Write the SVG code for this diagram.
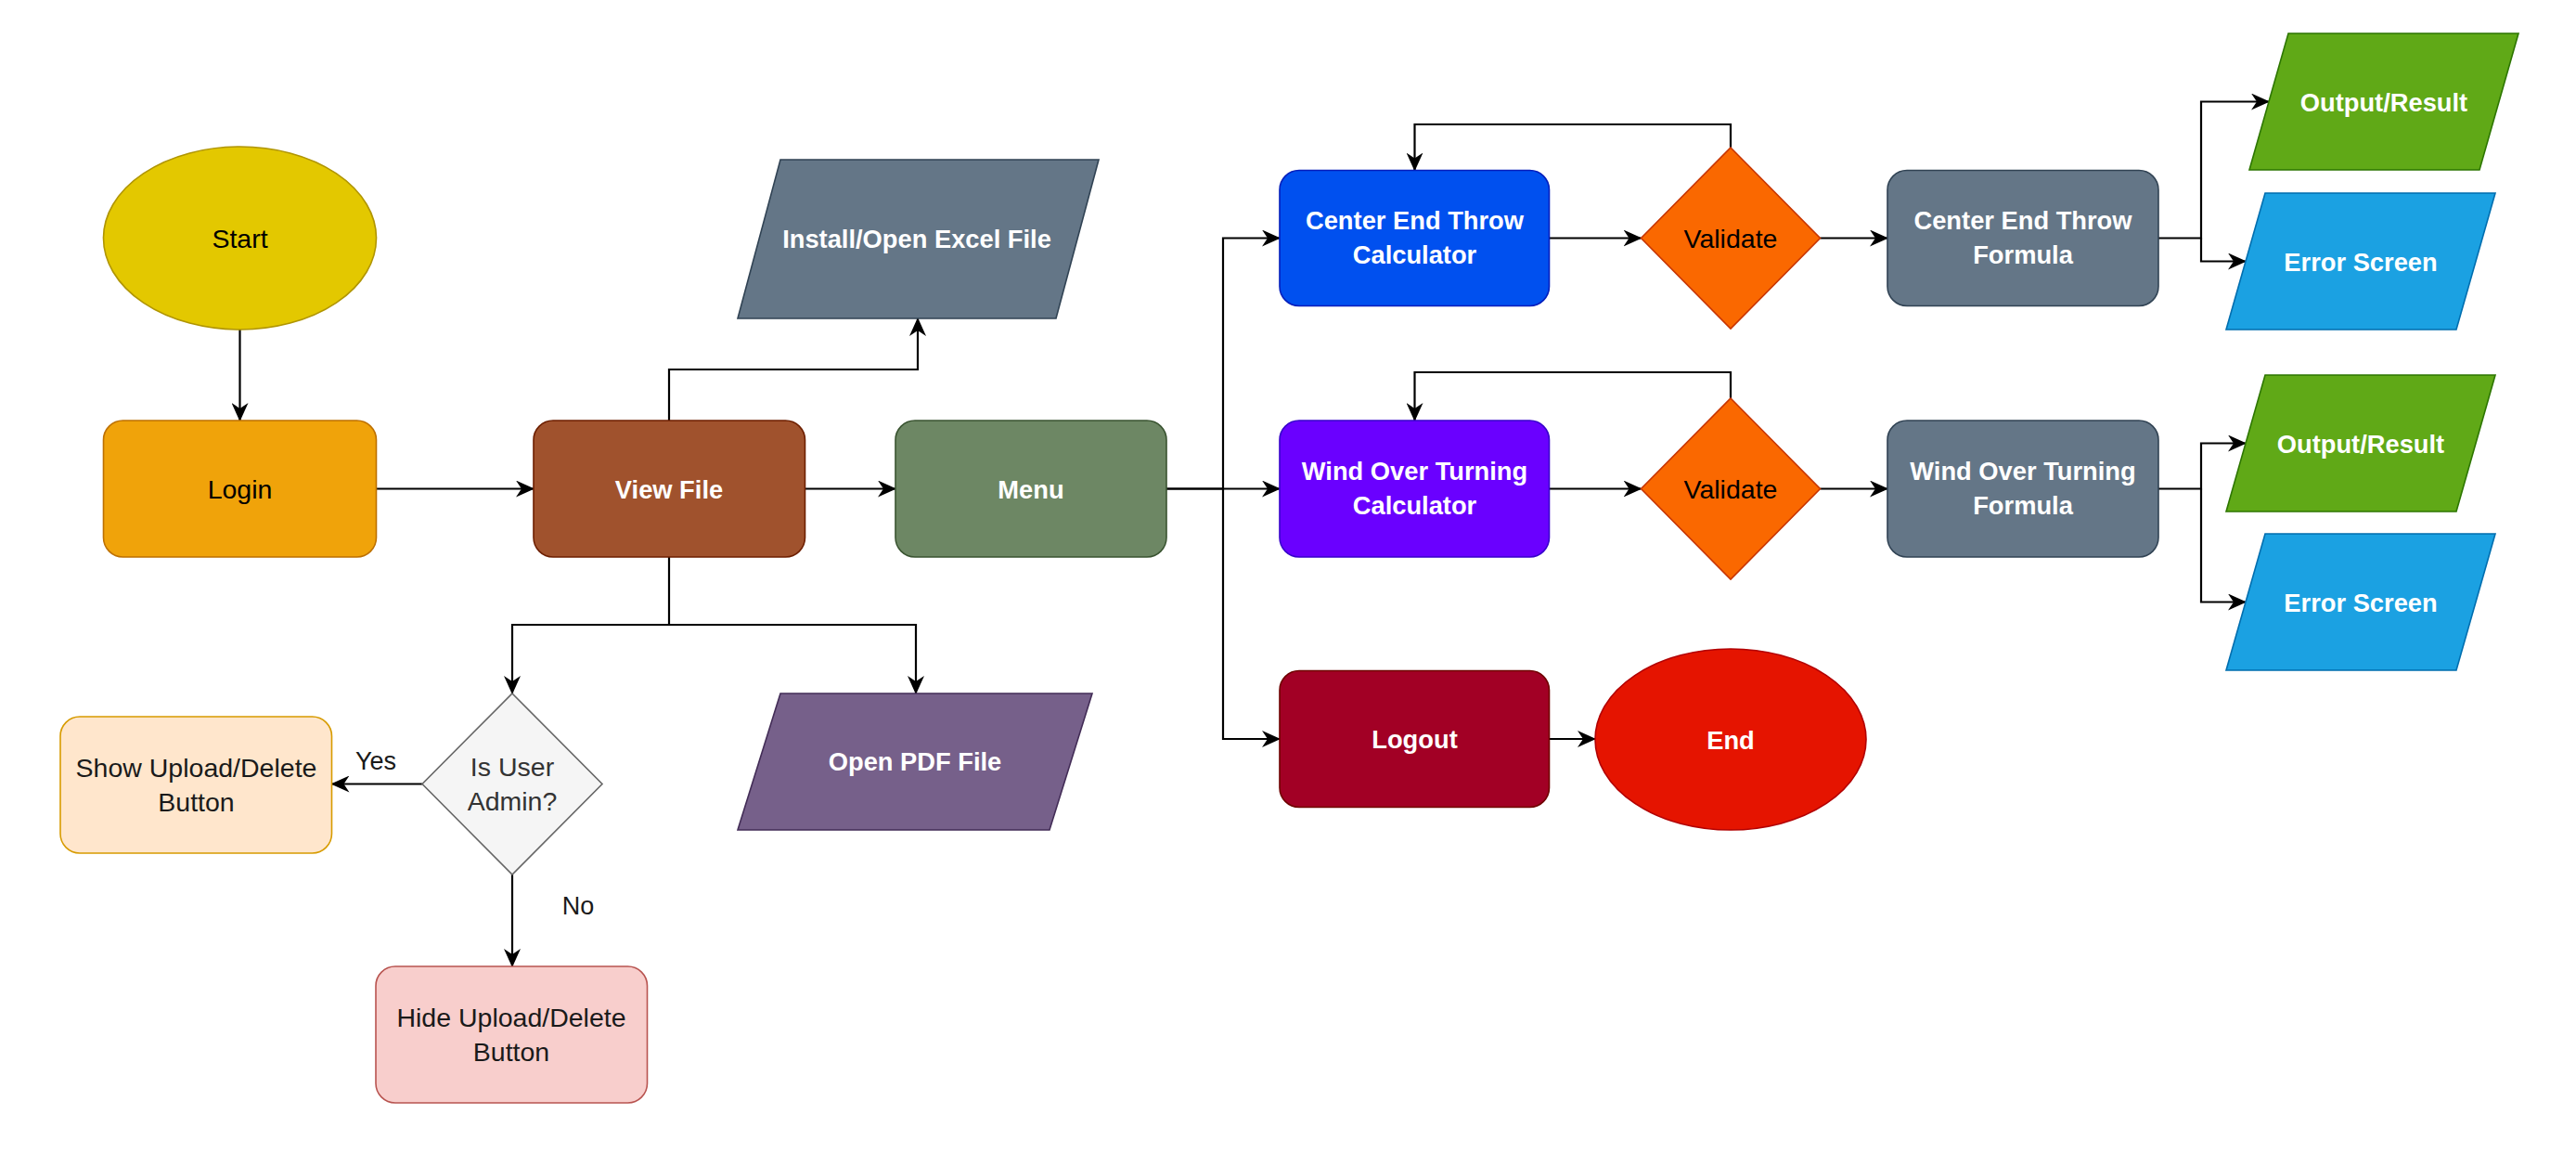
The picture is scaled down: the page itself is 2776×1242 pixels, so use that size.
<svg xmlns="http://www.w3.org/2000/svg" width="2776" height="1242" viewBox="0 0 2776 1242">
<defs>
<marker id="arr" markerUnits="userSpaceOnUse" markerWidth="20" markerHeight="18" viewBox="0 0 20 18" refX="19" refY="9" orient="auto">
<path d="M0,0 L20,9 L0,18 L6,9 Z" fill="#000"/>
</marker>
<style>
.t{font-family:"Liberation Sans",Arial,sans-serif;font-size:28.5px;text-anchor:middle;fill:#1a1a1a}
.b{font-family:"Liberation Sans",Arial,sans-serif;font-size:27.3px;font-weight:bold;text-anchor:middle;fill:#ffffff}
.c{fill:none;stroke:#000;stroke-width:2.2;marker-end:url(#arr)}
.n{stroke-width:1.6}
</style>
</defs>
<rect width="2776" height="1242" fill="#fff"/>
<g id="connectors">
<path class="c" d="M258.5,355 V453"/>
<path class="c" d="M405.5,526.5 H575"/>
<path class="c" d="M867.5,526.5 H965"/>
<path class="c" d="M721,453 V398 H989 V343"/>
<path class="c" d="M721,600 V673 H552 V747"/>
<path class="c" d="M721,673 H987 V747"/>
<path class="c" d="M455,844.5 H357.5"/>
<path class="c" d="M552,942 V1041"/>
<path class="c" d="M1257,526.5 H1318 V256.5 H1379"/>
<path class="c" d="M1257,526.5 H1379"/>
<path class="c" d="M1318,526.5 V796 H1379"/>
<path class="c" d="M1669.5,256.5 H1768.5"/>
<path class="c" d="M1865,159 V134 H1524.5 V183.5"/>
<path class="c" d="M1961.5,256.5 H2034"/>
<path class="c" d="M2326,256.5 H2372 V109.5 H2445"/>
<path class="c" d="M2372,256.5 V281.5 H2420"/>
<path class="c" d="M1669.5,526.5 H1768.5"/>
<path class="c" d="M1865,429 V401 H1524.5 V453"/>
<path class="c" d="M1961.5,526.5 H2034"/>
<path class="c" d="M2326,526.5 H2372 V477.5 H2420"/>
<path class="c" d="M2372,526.5 V648.5 H2420"/>
<path class="c" d="M1669.5,796 H1719"/>
<text class="t" x="405" y="829" style="font-size:27px">Yes</text>
<text class="t" x="623" y="985" style="font-size:27px">No</text>
</g>
<g id="start">
<ellipse class="n" cx="258.5" cy="256.5" rx="147" ry="98.5" fill="#e3c800" stroke="#b09500"/>
<text class="t" x="258.5" y="266.5" style="fill:#000">Start</text>
</g>
<g id="login">
<rect class="n" x="111.5" y="453" width="294" height="147" rx="21" fill="#f0a30a" stroke="#bd7000"/>
<text class="t" x="258.5" y="536.5" style="fill:#000">Login</text>
</g>
<g id="viewfile">
<rect class="n" x="575" y="453" width="292.5" height="147" rx="21" fill="#a0522d" stroke="#6d1f00"/>
<text class="b" x="721" y="536.5">View File</text>
</g>
<g id="menu">
<rect class="n" x="965" y="453" width="292" height="147" rx="21" fill="#6d8764" stroke="#3a5431"/>
<text class="b" x="1111" y="536.5">Menu</text>
</g>
<g id="install">
<polygon class="n" points="841,172 1184,172 1138,343 795,343" fill="#647687" stroke="#314354"/>
<text class="b" x="988" y="267">Install/Open Excel File</text>
</g>
<g id="pdf">
<polygon class="n" points="841,747 1177,747 1131,894 795,894" fill="#76608a" stroke="#432d57"/>
<text class="b" x="986" y="830">Open PDF File</text>
</g>
<g id="admin">
<polygon class="n" points="552,747 649,844.5 552,942 455,844.5" fill="#f5f5f5" stroke="#666666"/>
<text class="t" x="552" y="836" style="fill:#333">Is User</text>
<text class="t" x="552" y="873" style="fill:#333">Admin?</text>
</g>
<g id="show">
<rect class="n" x="65" y="772" width="292.5" height="147" rx="21" fill="#ffe6cc" stroke="#d79b00"/>
<text class="t" x="211.5" y="836.5">Show Upload/Delete</text>
<text class="t" x="211.5" y="873.5">Button</text>
</g>
<g id="hide">
<rect class="n" x="405" y="1041" width="292.5" height="147" rx="21" fill="#f8cecc" stroke="#b85450"/>
<text class="t" x="551" y="1105.5">Hide Upload/Delete</text>
<text class="t" x="551" y="1142.5">Button</text>
</g>
<g id="cet-calc">
<rect class="n" x="1379" y="183.5" width="290.5" height="146" rx="21" fill="#0050ef" stroke="#001dbc"/>
<text class="b" x="1524.5" y="247">Center End Throw</text>
<text class="b" x="1524.5" y="284">Calculator</text>
</g>
<g id="validate1">
<polygon class="n" points="1865,159 1961.5,256.5 1865,354 1768.5,256.5" fill="#fa6800" stroke="#c73500"/>
<text class="t" x="1865" y="266.5" style="fill:#000">Validate</text>
</g>
<g id="cet-formula">
<rect class="n" x="2034" y="183.5" width="292" height="146" rx="21" fill="#647687" stroke="#314354"/>
<text class="b" x="2180" y="247">Center End Throw</text>
<text class="b" x="2180" y="284">Formula</text>
</g>
<g id="output1">
<polygon class="n" points="2466,36 2714,36 2672,183 2424,183" fill="#60a917" stroke="#2d7600"/>
<text class="b" x="2569" y="119.5">Output/Result</text>
</g>
<g id="error1">
<polygon class="n" points="2441,208 2689,208 2647,355 2399,355" fill="#1ba1e2" stroke="#006eaf"/>
<text class="b" x="2544" y="291.5">Error Screen</text>
</g>
<g id="wot-calc">
<rect class="n" x="1379" y="453" width="290.5" height="147" rx="21" fill="#6a00ff" stroke="#3700cc"/>
<text class="b" x="1524.5" y="517">Wind Over Turning</text>
<text class="b" x="1524.5" y="554">Calculator</text>
</g>
<g id="validate2">
<polygon class="n" points="1865,429 1961.5,526.5 1865,624 1768.5,526.5" fill="#fa6800" stroke="#c73500"/>
<text class="t" x="1865" y="536.5" style="fill:#000">Validate</text>
</g>
<g id="wot-formula">
<rect class="n" x="2034" y="453" width="292" height="147" rx="21" fill="#647687" stroke="#314354"/>
<text class="b" x="2180" y="517">Wind Over Turning</text>
<text class="b" x="2180" y="554">Formula</text>
</g>
<g id="output2">
<polygon class="n" points="2441,404 2689,404 2647,551 2399,551" fill="#60a917" stroke="#2d7600"/>
<text class="b" x="2544" y="487.5">Output/Result</text>
</g>
<g id="error2">
<polygon class="n" points="2441,575 2689,575 2647,722 2399,722" fill="#1ba1e2" stroke="#006eaf"/>
<text class="b" x="2544" y="658.5">Error Screen</text>
</g>
<g id="logout">
<rect class="n" x="1379" y="722.5" width="290.5" height="147" rx="21" fill="#a20025" stroke="#6f0000"/>
<text class="b" x="1524.5" y="806">Logout</text>
</g>
<g id="end">
<ellipse class="n" cx="1865" cy="796.5" rx="146" ry="97.5" fill="#e51400" stroke="#b20000"/>
<text class="b" x="1865" y="806.5">End</text>
</g>
</svg>
